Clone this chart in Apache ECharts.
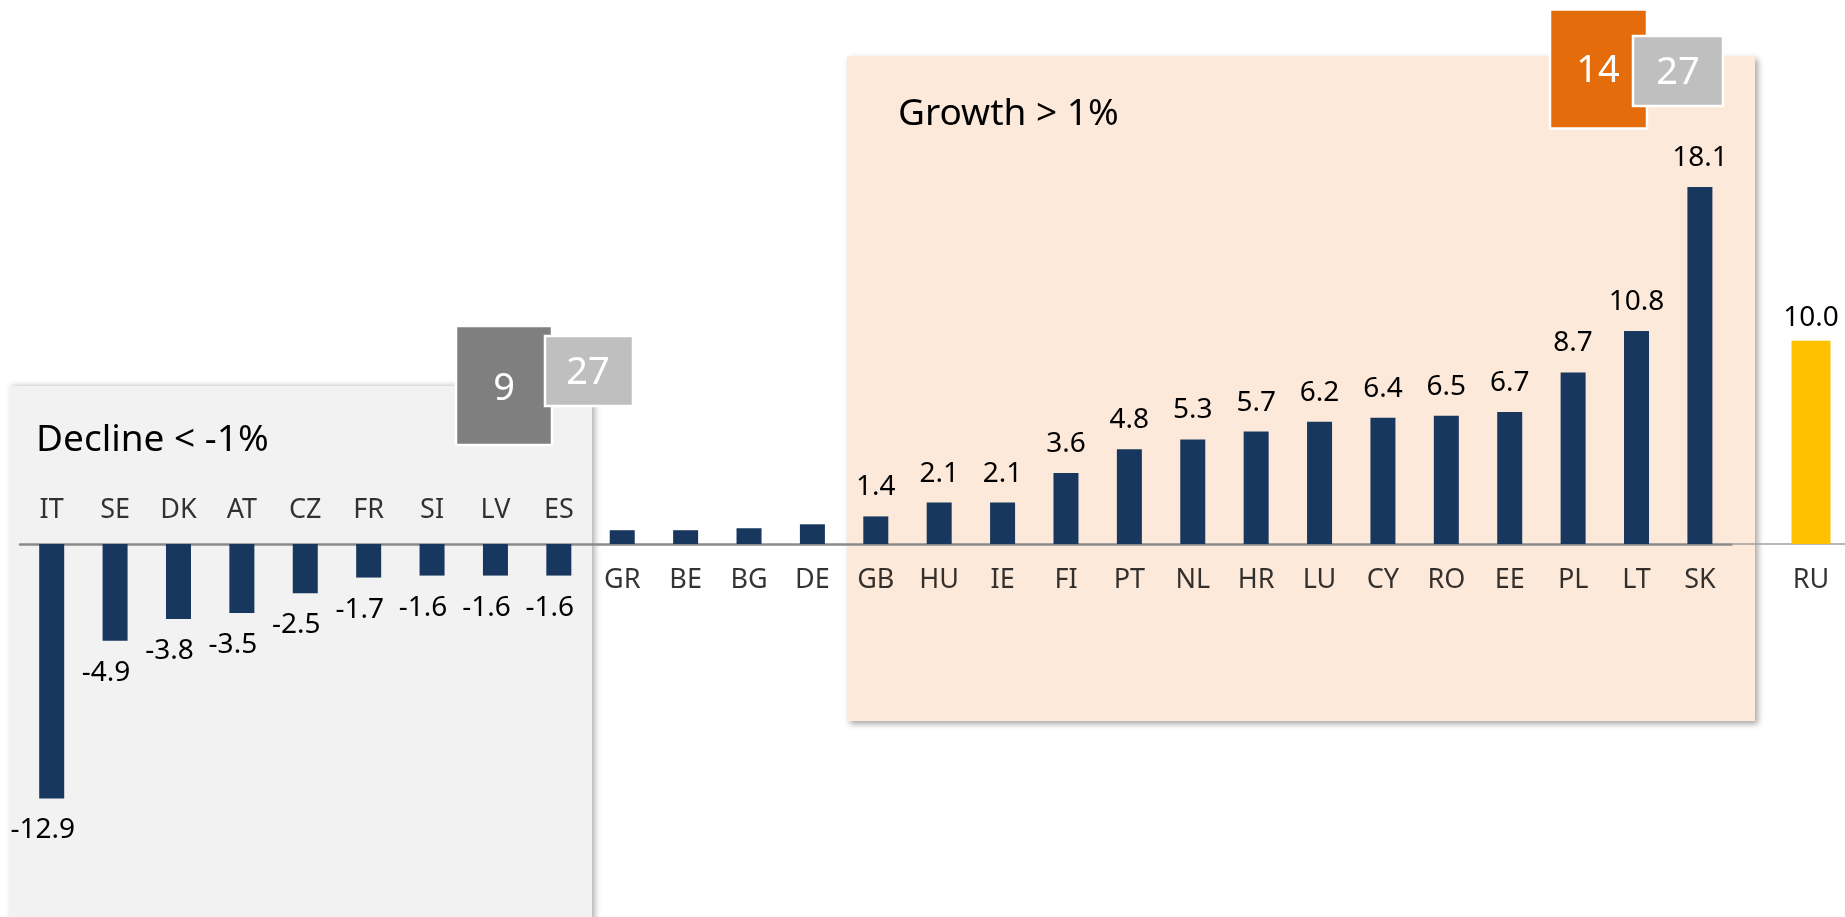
<!DOCTYPE html>
<html>
<head>
<meta charset="utf-8">
<style>
  html, body { margin: 0; padding: 0; background: #fff; }
  #chart { width: 1845px; height: 917px; }
</style>
<script src="https://cdn.jsdelivr.net/npm/echarts@6/dist/echarts.min.js"></script>
</head>
<body>
<div id="chart"></div>
<script>
// EU countries, change in %
const countries = ["IT", "SE", "DK", "AT", "CZ", "FR", "SI", "LV", "ES", "GR", "BE", "BG", "DE",
  "GB", "HU", "IE", "FI", "PT", "NL", "HR", "LU", "CY", "RO", "EE", "PL", "LT", "SK"];
const change = [-12.9, -4.9, -3.8, -3.5, -2.5, -1.7, -1.6, -1.6, -1.6, 0.7, 0.7, 0.8, 1.0,
  1.4, 2.1, 2.1, 3.6, 4.8, 5.3, 5.7, 6.2, 6.4, 6.5, 6.7, 8.7, 10.8, 18.1];
// shown apart on the right
const otherCountries = ["RU"];
const otherChange = [10.0];
// counters in the boxes
const declineCount = 9;
const growthCount = 14;
const totalCount = 27;

const FONT = "Noto Sans";
const chart = echarts.init(document.getElementById("chart"));

// value label only where the change is more than 1% either way
const barData = change.map((v) => ({
  value: v,
  label: {
    show: Math.abs(v) > 1,
    position: v < 0 ? "bottom" : "top",
    distance: v < 0 ? 18 : 15,
    offset: v < 0 ? [-9, 0] : [0, 0],
  },
}));

// country names sit on the zero line: above it for declines, below otherwise
const nameData = countries.map((c, i) => ({
  value: [i, 0],
  name: c,
  label: { position: change[i] < 0 ? "top" : "bottom", distance: change[i] < 0 ? 20 : 22 },
}));

const nameLabel = {
  show: true,
  color: "#000",
  fontSize: 27,
  fontFamily: FONT,
  formatter: (p) => p.name,
};

const option = {
  animation: false,
  grid: [
    { left: 20, top: 149.6, width: 1711.6, height: 749.4, outerBoundsMode: "none" },
    { left: 1732, top: 137.4, width: 158, height: 772.6, outerBoundsMode: "none" },
  ],
  xAxis: [
    {
      type: "category",
      gridIndex: 0,
      data: countries,
      axisLine: { onZero: true, lineStyle: { color: "#8a8a8a", width: 2.5 } },
      axisTick: { show: false },
      axisLabel: { show: false },
    },
    {
      type: "category",
      gridIndex: 1,
      data: otherCountries,
      axisLine: { onZero: true, lineStyle: { color: "#a0a0a0", width: 1.5 } },
      axisTick: { show: false },
      axisLabel: { show: false },
    },
  ],
  yAxis: [
    { type: "value", gridIndex: 0, min: -18, max: 20, show: false },
    { type: "value", gridIndex: 1, min: -18, max: 20, show: false },
  ],
  series: [
    {
      type: "bar",
      xAxisIndex: 0,
      yAxisIndex: 0,
      barWidth: 25,
      data: barData,
      itemStyle: { color: "#17375E" },
      label: {
        color: "#000",
        fontSize: 28,
        fontFamily: FONT,
        formatter: (p) => p.value.toFixed(1),
      },
    },
    {
      type: "bar",
      xAxisIndex: 1,
      yAxisIndex: 1,
      barWidth: 39,
      data: otherChange,
      itemStyle: { color: "#FFC000" },
      label: {
        show: true,
        position: "top",
        distance: 9,
        color: "#000",
        fontSize: 28,
        fontFamily: FONT,
        formatter: (p) => p.value.toFixed(1),
      },
    },
    {
      type: "scatter",
      xAxisIndex: 0,
      yAxisIndex: 0,
      symbolSize: 1,
      itemStyle: { color: "transparent" },
      data: nameData,
      label: nameLabel,
      silent: true,
    },
    {
      type: "scatter",
      xAxisIndex: 1,
      yAxisIndex: 1,
      symbolSize: 1,
      itemStyle: { color: "transparent" },
      data: otherCountries.map((c, i) => ({ value: [i, 0], name: c })),
      label: Object.assign({ position: "bottom", distance: 22 }, nameLabel),
      silent: true,
    },
  ],
  graphic: [
    {
      type: "rect",
      z: -10,
      shape: { x: 9, y: 386, width: 583, height: 560 },
      style: { fill: "#F2F2F2", shadowBlur: 6, shadowOffsetX: 3, shadowOffsetY: 0, shadowColor: "rgba(0,0,0,0.3)" },
    },
    {
      type: "rect",
      z: -10,
      shape: { x: 847, y: 56, width: 908, height: 665 },
      style: { fill: "#FDE9D9", shadowBlur: 6, shadowOffsetX: 3, shadowOffsetY: 3, shadowColor: "rgba(0,0,0,0.35)" },
    },
    {
      type: "text",
      z: 5,
      style: { x: 36, y: 440, text: "Decline < -1%", font: "37px " + FONT, fill: "#000", verticalAlign: "middle" },
    },
    {
      type: "text",
      z: 5,
      style: { x: 898, y: 114, text: "Growth > 1%", font: "37px " + FONT, fill: "#000", verticalAlign: "middle" },
    },
    // decline counter
    {
      type: "rect",
      z: 100,
      shape: { x: 456, y: 326, width: 96, height: 119 },
      style: { fill: "#7F7F7F", stroke: "#fff", lineWidth: 2.5 },
    },
    {
      type: "rect",
      z: 101,
      shape: { x: 545, y: 336, width: 88, height: 70 },
      style: { fill: "#BFBFBF", stroke: "#fff", lineWidth: 2.5 },
    },
    {
      type: "text",
      z: 102,
      style: { x: 504, y: 389, text: String(declineCount), font: "38px " + FONT, fill: "#fff", align: "center", verticalAlign: "middle" },
    },
    {
      type: "text",
      z: 102,
      style: { x: 588, y: 373, text: String(totalCount), font: "38px " + FONT, fill: "#fff", align: "center", verticalAlign: "middle" },
    },
    // growth counter
    {
      type: "rect",
      z: 100,
      shape: { x: 1550, y: 9.5, width: 97, height: 119 },
      style: { fill: "#E46C0A", stroke: "#fff", lineWidth: 2.5 },
    },
    {
      type: "rect",
      z: 101,
      shape: { x: 1633, y: 36, width: 90, height: 70 },
      style: { fill: "#BFBFBF", stroke: "#fff", lineWidth: 2.5 },
    },
    {
      type: "text",
      z: 102,
      style: { x: 1598, y: 71, text: String(growthCount), font: "38px " + FONT, fill: "#fff", align: "center", verticalAlign: "middle" },
    },
    {
      type: "text",
      z: 102,
      style: { x: 1678, y: 73, text: String(totalCount), font: "38px " + FONT, fill: "#fff", align: "center", verticalAlign: "middle" },
    },
  ],
};

chart.setOption(option);
window.addEventListener("resize", () => chart.resize());
</script>
</body>
</html>
